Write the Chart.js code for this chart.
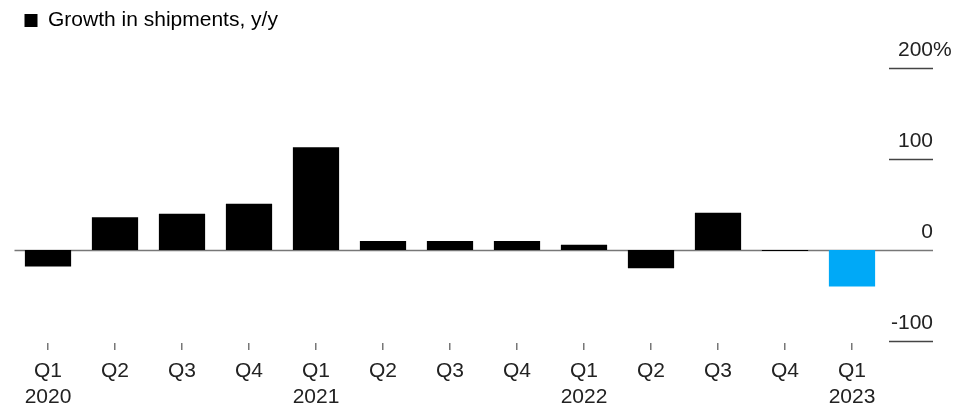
<!DOCTYPE html>
<html>
<head>
<meta charset="utf-8">
<script src="https://cdn.jsdelivr.net/npm/chart.js@4.4.0/dist/chart.umd.min.js"></script>
<style>
  html, body { margin: 0; padding: 0; background: #fff; }
  #wrap { width: 954px; height: 406px; }
</style>
</head>
<body>
<div id="wrap"><canvas id="myChart"></canvas></div>
<script>
// quarters, with year shown under Q1
var quarters = ['Q1', 'Q2', 'Q3', 'Q4', 'Q1', 'Q2', 'Q3', 'Q4', 'Q1', 'Q2', 'Q3', 'Q4', 'Q1'];
var years = ['2020', '', '', '', '2021', '', '', '', '2022', '', '', '', '2023'];
var growth = [-18, 36, 40, 51, 113, 10, 10, 10, 6, -20, 41, -1, -40];
var yTicks = [200, 100, 0, -100];
var yTickLabels = ['200', '100', '0', '-100'];

var labels = [];
for (var i = 0; i < quarters.length; i++) {
    labels[i] = years[i] ? [quarters[i], years[i]] : quarters[i];
}

var barColors = [];
for (var i = 0; i < growth.length; i++) {
    barColors[i] = (i == growth.length - 1) ? '#00a9f7' : '#000000';
}

var fontFamily = '"Liberation Sans", Arial, Helvetica, sans-serif';

// zero line under bars, short gridlines + labels in the right axis
var axisLines = {
    id: 'axisLines',
    beforeInit: function (chart) {
        var fit = chart.legend.fit;
        chart.legend.fit = function () {
            fit.bind(chart.legend)();
            this.height = 68;
        };
    },
    beforeDatasetsDraw: function (chart) {
        var ctx = chart.ctx;
        var y = chart.scales.y;
        var zero = Math.round(y.getPixelForValue(0)) + 0.5;
        ctx.save();
        ctx.strokeStyle = '#777';
        ctx.lineWidth = 1.5;
        ctx.beginPath();
        ctx.moveTo(chart.chartArea.left, zero);
        ctx.lineTo(933, zero);
        ctx.stroke();
        ctx.restore();
    },
    afterDraw: function (chart) {
        var ctx = chart.ctx;
        var y = chart.scales.y;
        ctx.save();
        ctx.font = '21px ' + fontFamily;
        ctx.fillStyle = '#222';
        ctx.textBaseline = 'alphabetic';
        for (var i = 0; i < yTicks.length; i++) {
            var py = Math.round(y.getPixelForValue(yTicks[i])) + 0.5;
            ctx.textAlign = 'right';
            ctx.fillText(yTickLabels[i], 933, py - 13);
            if (i == 0) {
                // percent sign hangs past the number column
                ctx.textAlign = 'left';
                ctx.fillText('%', 933, py - 13);
            }
            if (yTicks[i] != 0) {
                ctx.strokeStyle = '#444';
                ctx.lineWidth = 1.5;
                ctx.beginPath();
                ctx.moveTo(889, py);
                ctx.lineTo(933, py);
                ctx.stroke();
            }
        }
        ctx.restore();
    }
};

const ctx = document.getElementById('myChart').getContext('2d');
const myChart = new Chart(ctx, {
    type: 'bar',
    data: {
        labels: labels,
        datasets: [{
            label: 'Growth in shipments, y/y',
            data: growth,
            backgroundColor: barColors,
            borderWidth: 0,
            categoryPercentage: 1.0,
            barPercentage: 0.69
        }]
    },
    options: {
        responsive: true,
        maintainAspectRatio: false,
        animation: false,
        layout: {
            padding: { left: 14.5, right: 0, top: 0, bottom: 0 }
        },
        plugins: {
            legend: {
                display: true,
                position: 'top',
                align: 'start',
                labels: {
                    boxWidth: 13,
                    boxHeight: 13,
                    padding: 10,
                    color: '#222',
                    font: { family: fontFamily, size: 21 },
                    generateLabels: function (chart) {
                        return [{
                            text: 'Growth in shipments, y/y',
                            fillStyle: '#000',
                            strokeStyle: '#000',
                            lineWidth: 0,
                            datasetIndex: 0
                        }];
                    }
                }
            },
            tooltip: { enabled: false }
        },
        scales: {
            x: {
                grid: {
                    display: true,
                    offset: false,
                    drawOnChartArea: false,
                    drawTicks: true,
                    tickLength: 7,
                    color: '#777',
                    lineWidth: 1.5
                },
                border: { display: false },
                ticks: {
                    color: '#222',
                    padding: 8,
                    maxRotation: 0,
                    autoSkip: false,
                    font: { family: fontFamily, size: 21, lineHeight: 1.24 }
                },
                afterFit: function (scale) {
                    scale.height = 63;
                }
            },
            y: {
                position: 'right',
                min: -102,
                max: 200,
                grid: { display: false },
                border: { display: false },
                ticks: { display: false },
                afterFit: function (scale) {
                    scale.width = 68.5;
                }
            }
        }
    },
    plugins: [axisLines]
});
</script>
</body>
</html>
